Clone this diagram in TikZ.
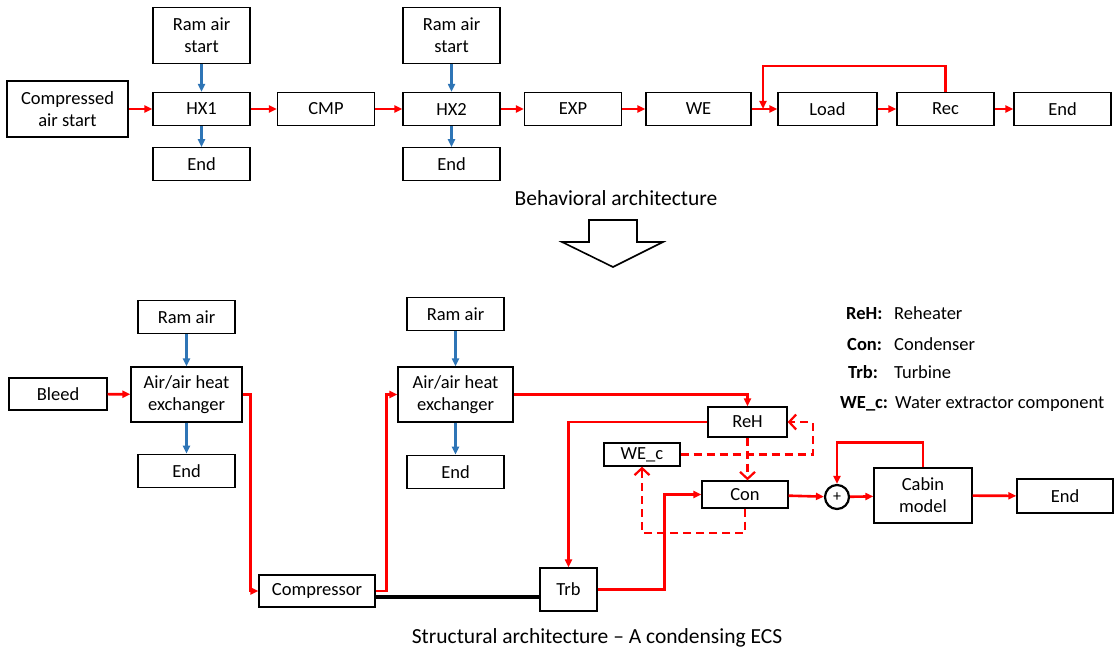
\documentclass[tikz,border=0pt]{standalone}
\usepackage{fontspec}
\setmainfont{Carlito}
\usetikzlibrary{arrows.meta, positioning}
\definecolor{ecsred}{RGB}{255,0,0}
\definecolor{ecsblue}{RGB}{46,117,182}

\begin{document}
\begin{tikzpicture}[
  x=1pt, y=-1pt,
  font=\fontsize{18.5}{22}\selectfont,
  blk/.style    ={rectangle, draw=black, line width=1.3pt, fill=white, align=center,
                  minimum width=97pt, minimum height=33pt, inner sep=2pt},
  tallblk/.style={blk, minimum height=56pt},
  hxblk/.style  ={blk, minimum height=55pt},
  sum/.style    ={circle, draw=black, line width=2.2pt, minimum size=24pt, inner sep=0pt},
  flow/.style   ={-{Triangle[length=8pt, width=7pt]}, line width=2.6pt, draw=ecsred},
  ram/.style    ={-{Triangle[length=8pt, width=7pt]}, line width=2.2pt, draw=ecsblue},
  water/.style  ={-{Straight Barb[length=7pt, width=15pt]}, line width=2.2pt, draw=ecsred,
                  dash pattern=on 8pt off 5pt},
  shaft/.style  ={line width=4pt, draw=black},
  title/.style  ={font=\fontsize{21.5}{25}\selectfont},
  legkey/.style ={anchor=base west, inner sep=0pt, font=\fontsize{18.5}{22}\selectfont\bfseries},
  legtxt/.style ={anchor=base west, inner sep=0pt},
]
\useasboundingbox (0,0) rectangle (1115,652);

% ---- behavioral architecture ----
\node[tallblk, minimum width=121pt] (cas) at (67.5,109) {Compressed\\air start};
\node[blk] (hx1)  at (201.5,109) {HX1};
\node[blk] (cmp)  at (326,109)   {CMP};
\node[blk] (hx2)  at (451.5,109) {HX2};
\node[blk] (exp)  at (573,109)   {EXP};
\node[blk, minimum width=105pt] (we)   at (698.5,109) {WE};
\node[blk, minimum width=99pt]  (load) at (827.5,109) {Load};
\node[blk] (rec)  at (945.5,109) {Rec};
\node[blk] (e3)   at (1062.5,109) {End};

\node[tallblk, above=28pt of hx1] (rs1) {Ram air\\start};
\node[blk, below=21pt of hx1]     (e1)  {End};
\node[tallblk, above=28pt of hx2] (rs2) {Ram air\\start};
\node[blk, below=21pt of hx2]     (e2)  {End};

\coordinate (wejoin) at (763,109);

\draw[flow] (cas)--(hx1);
\draw[flow] (hx1)--(cmp);
\draw[flow] (cmp)--(hx2);
\draw[flow] (hx2)--(exp);
\draw[flow] (exp)--(we);
\draw[flow] (we)--(load);
\draw[flow] (load)--(rec);
\draw[flow] (rec)--(e3);
\draw[flow] (rec.north) -- ++(0,-26) -| (wejoin);

\draw[ram] (rs1)--(hx1);
\draw[ram] (hx1)--(e1);
\draw[ram] (rs2)--(hx2);
\draw[ram] (hx2)--(e2);

\node[title] (beh) at (616,198) {Behavioral architecture};

% ---- transition arrow ----
\draw[line width=1.6pt, fill=white] (589,220) -- (637,220) -- (637,242) -- (663,242)
  -- (613,267) -- (562,242) -- (589,242) -- cycle;

% ---- structural architecture ----
\node[blk, minimum width=98pt, minimum height=32pt] (bleed) at (58,394) {Bleed};
\node[hxblk, minimum width=111pt] (ahx1) at (186.5,394.5) {Air/air heat\\exchanger};
\node[blk, above=32pt of ahx1]    (ram1) {Ram air};
\node[blk, below=31pt of ahx1]    (e4)   {End};
\node[blk, minimum width=116pt, minimum height=32pt] (comp) at (317,591) {Compressor};
\node[hxblk, minimum width=115pt] (ahx2) at (455.5,394.5) {Air/air heat\\exchanger};
\node[blk, above=35pt of ahx2]    (ram2) {Ram air};
\node[blk, below=32pt of ahx2]    (e5)   {End};
\node[blk, minimum width=57pt, minimum height=43pt] (trb) at (568.5,589.5) {Trb};
\node[blk, minimum width=79pt, minimum height=30pt] (reh) at (747.5,422) {ReH};
\node[blk, minimum width=76pt, minimum height=23pt] (wec) at (642,454.5) {WE\_c};
\node[blk, minimum width=86pt, minimum height=27pt] (con) at (745,494.5) {Con};
\node[sum] (mix) at (837,497) {\fontsize{16}{16}\selectfont +};
\node[hxblk, minimum width=98pt] (cab) at (923,495.5) {Cabin\\model};
\node[blk, minimum width=96pt, minimum height=34pt] (e6) at (1065,496) {End};

\draw[flow] (bleed)--(ahx1);
\draw[ram]  (ram1)--(ahx1);
\draw[ram]  (ahx1)--(e4);
\draw[flow] (ahx1.east) -- ++(8,0) |- (comp.west);
\draw[flow] (comp.east) -- ++(11,0) |- (ahx2.west);
\draw[ram]  (ram2)--(ahx2);
\draw[ram]  (ahx2)--(e5);
\draw[flow] (ahx2.east) -| (reh.north);
\draw[flow] (reh.west) -| (trb.north);
\draw[flow] (trb.east) -- ++(67,0) |- (con.west);
\draw[shaft] ([yshift=-6pt]comp.east) -- ([yshift=-6pt]comp.east -| trb.west);

% water extraction loop
\draw[water] (reh.south) -- (reh.south |- con.north);
\draw[water] (wec.east) -- ++(132,0) |- (reh.east);
\draw[water] (con.south) -- ++(0,24) -| (wec.south);

\draw[flow] (con)--(mix);
\draw[flow] (mix)--(cab);
\draw[flow] (cab.north) -- ++(0,-25) -| (mix.north);
\draw[flow] (cab)--(e6);

% ---- legend ----
\node[legkey] (kreh) at (846,319) {ReH:};
\node[legtxt] (treh) at (894,319) {Reheater};
\node[legkey] (kcon) at (847,350) {Con:};
\node[legtxt] (tcon) at (894,350) {Condenser};
\node[legkey] (ktrb) at (848,378) {Trb:};
\node[legtxt] (ttrb) at (894,378) {Turbine};
\node[legkey] (kwec) at (840,408) {WE\_c:};
\node[legtxt] (twec) at (895,408) {Water extractor component};

\node[title] (str) at (597,638) {Structural architecture – A condensing ECS};

\end{tikzpicture}
\end{document}
